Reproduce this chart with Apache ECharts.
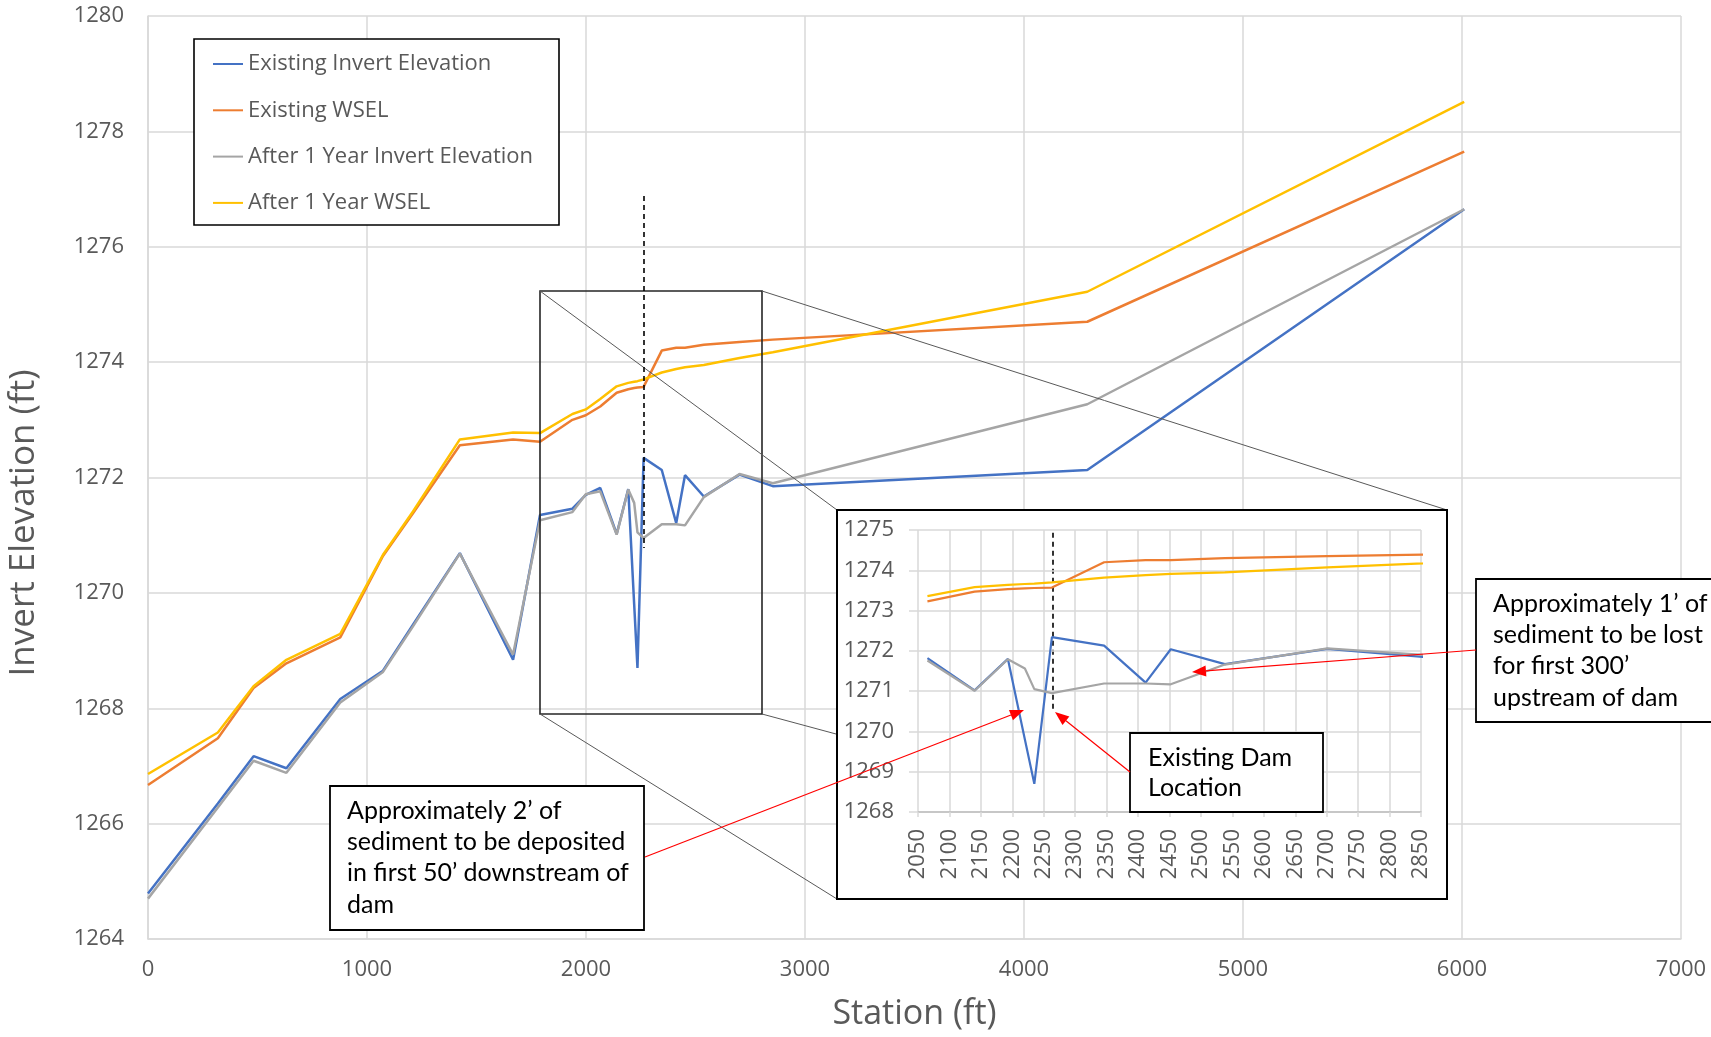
<!DOCTYPE html>
<html>
<head>
<meta charset="utf-8">
<script src="https://cdn.jsdelivr.net/npm/echarts@6/dist/echarts.min.js"></script>
<style>
  html, body { margin: 0; padding: 0; background: #fff; }
  #chart { width: 1711px; height: 1037px; }
</style>
</head>
<body>
<div id="chart"></div>
<script>
// River profile: cross-section stations (ft) and elevations (ft)
const stations = [0, 319, 482, 632, 878, 1073, 1210, 1424, 1667, 1790, 1938, 1999, 2065, 2140, 2193, 2220, 2235, 2263, 2346, 2412, 2452, 2538, 2701, 2853, 4289, 6010];
const existingInvert = [1264.79, 1266.35, 1267.17, 1266.96, 1268.16, 1268.65, 1269.45, 1270.69, 1268.84, 1271.35, 1271.46, 1271.70, 1271.82, 1271.02, 1271.80, 1269.80, 1268.70, 1272.34, 1272.13, 1271.21, 1272.04, 1271.67, 1272.05, 1271.85, 1272.13, 1276.65];
const existingWsel = [1266.67, 1267.48, 1268.35, 1268.78, 1269.23, 1270.64, 1271.38, 1272.56, 1272.66, 1272.62, 1273.00, 1273.08, 1273.23, 1273.47, 1273.53, 1273.55, 1273.56, 1273.57, 1274.20, 1274.25, 1274.25, 1274.30, 1274.35, 1274.39, 1274.70, 1277.65];
const after1YrInvert = [1264.70, 1266.28, 1267.09, 1266.88, 1268.10, 1268.63, 1269.42, 1270.68, 1268.93, 1271.26, 1271.40, 1271.71, 1271.76, 1271.01, 1271.79, 1271.56, 1271.05, 1270.95, 1271.19, 1271.19, 1271.17, 1271.66, 1272.06, 1271.90, 1273.27, 1276.65];
const after1YrWsel = [1266.86, 1267.58, 1268.38, 1268.84, 1269.29, 1270.66, 1271.41, 1272.66, 1272.78, 1272.77, 1273.10, 1273.18, 1273.36, 1273.58, 1273.64, 1273.66, 1273.67, 1273.70, 1273.82, 1273.88, 1273.91, 1273.95, 1274.07, 1274.17, 1275.22, 1278.51];

const seriesNames = ['Existing Invert Elevation', 'Existing WSEL', 'After 1 Year Invert Elevation', 'After 1 Year WSEL'];
const seriesColors = ['#4472C4', '#ED7D31', '#A5A5A5', '#FFC000'];
const seriesValues = [existingInvert, existingWsel, after1YrInvert, after1YrWsel];

// Axis ranges
const mainXTicks = [0, 1000, 2000, 3000, 4000, 5000, 6000, 7000];
const mainYTicks = [1264, 1266, 1268, 1270, 1272, 1274, 1276, 1278, 1280];
const insetXTicks = [2050, 2100, 2150, 2200, 2250, 2300, 2350, 2400, 2450, 2500, 2550, 2600, 2650, 2700, 2750, 2800, 2850];
const insetYTicks = [1268, 1269, 1270, 1271, 1272, 1273, 1274, 1275];

const damStation = 2264;
const insetFrom = 2050;

const notes = {
  deposit: ['Approximately 2’ of', 'sediment to be deposited', 'in first 50’ downstream of', 'dam'],
  dam: ['Existing Dam', 'Location'],
  lost: ['Approximately 1’ of', 'sediment to be lost', 'for first 300’', 'upstream of dam']
};

const AXIS_FONT = '"Open Sans", "Noto Sans", sans-serif';
const NOTE_FONT = 'Lato, "Open Sans", sans-serif';
const GREY_TEXT = '#595959';
const GRID_LINE = '#d9d9d9';
const plain = v => String(v);

const chart = echarts.init(document.getElementById('chart'), null, { renderer: 'canvas' });

function pairs(values, filterFn) {
  const out = [];
  stations.forEach((s, i) => { if (!filterFn || filterFn(s)) out.push([s, values[i]]); });
  return out;
}

const mainSeries = seriesNames.map((name, k) => ({
  name, type: 'line', xAxisIndex: 0, yAxisIndex: 0,
  data: pairs(seriesValues[k]),
  symbol: 'none', z: 2,
  lineStyle: { color: seriesColors[k], width: 2.5 },
  itemStyle: { color: seriesColors[k] },
  animation: false
}));
const insetSeries = seriesNames.map((name, k) => ({
  name, type: 'line', xAxisIndex: 1, yAxisIndex: 1,
  data: pairs(seriesValues[k], s => s >= insetFrom),
  symbol: 'none', z: 8, clip: true,
  lineStyle: { color: seriesColors[k], width: 2.2 },
  itemStyle: { color: seriesColors[k] },
  animation: false
}));

// Dam location dashed markers
mainSeries[0].markLine = {
  silent: true, symbol: 'none', label: { show: false },
  lineStyle: { color: '#000', type: [5, 4], width: 1.6 },
  data: [[{ coord: [damStation, 1276.88] }, { coord: [damStation, 1270.78] }]]
};
insetSeries[0].markLine = {
  silent: true, symbol: 'none', label: { show: false },
  lineStyle: { color: '#000', type: [5, 4], width: 1.6 },
  data: [[{ coord: [damStation, 1274.93] }, { coord: [damStation, 1270.55] }]]
};

// Annotation helpers
function arrow(x1, y1, x2, y2) {
  const ang = Math.atan2(y2 - y1, x2 - x1);
  const len = 14, half = 5.5;
  const bx = x2 - len * Math.cos(ang), by = y2 - len * Math.sin(ang);
  const px = -Math.sin(ang) * half, py = Math.cos(ang) * half;
  return [
    { type: 'line', z: 40, shape: { x1, y1, x2: bx, y2: by }, style: { stroke: '#ff0000', lineWidth: 1.2 } },
    { type: 'polygon', z: 40, shape: { points: [[x2, y2], [bx + px, by + py], [bx - px, by - py]] }, style: { fill: '#ff0000' } }
  ];
}
function noteBox(x, y, w, h, tx, ty, lines, lh) {
  return [
    { type: 'rect', z: 30, shape: { x, y, width: w, height: h }, style: { fill: '#fff', stroke: '#000', lineWidth: 1.8 } },
    { type: 'text', z: 31, x: tx, y: ty, style: { text: lines.join('\n'), font: '25px ' + NOTE_FONT, fill: '#000', lineHeight: lh, verticalAlign: 'top', align: 'left' } }
  ];
}

const zoomBox = { x1: 540, y1: 291, x2: 762, y2: 714 };
const insetBox = { x1: 837, y1: 510, x2: 1447, y2: 899 };

const graphics = [
  // y-axis title
  { type: 'text', z: 10, x: 24, y: 523, rotation: Math.PI / 2,
    style: { text: 'Invert Elevation (ft)', font: '35px ' + AXIS_FONT, fill: GREY_TEXT, align: 'center', verticalAlign: 'middle' } },
  // legend frame
  { type: 'rect', z: 3, shape: { x: 194, y: 39, width: 365, height: 186 }, style: { fill: '#fff', stroke: '#000', lineWidth: 1.6 } },
  // zoom region frame
  { type: 'rect', z: 4, shape: { x: zoomBox.x1, y: zoomBox.y1, width: zoomBox.x2 - zoomBox.x1, height: zoomBox.y2 - zoomBox.y1 }, style: { fill: null, stroke: '#262626', lineWidth: 1.6 } },
  // connectors from zoom frame to inset corners
  { type: 'line', z: 4, shape: { x1: zoomBox.x1, y1: zoomBox.y1, x2: insetBox.x1, y2: insetBox.y1 }, style: { stroke: '#595959', lineWidth: 1 } },
  { type: 'line', z: 4, shape: { x1: zoomBox.x2, y1: zoomBox.y1, x2: insetBox.x2, y2: insetBox.y1 }, style: { stroke: '#595959', lineWidth: 1 } },
  { type: 'line', z: 4, shape: { x1: zoomBox.x1, y1: zoomBox.y2, x2: insetBox.x1, y2: insetBox.y2 }, style: { stroke: '#595959', lineWidth: 1 } },
  { type: 'line', z: 4, shape: { x1: zoomBox.x2, y1: zoomBox.y2, x2: insetBox.x2, y2: insetBox.y2 }, style: { stroke: '#595959', lineWidth: 1 } },
  // inset panel
  { type: 'rect', z: 5, shape: { x: insetBox.x1, y: insetBox.y1, width: insetBox.x2 - insetBox.x1, height: insetBox.y2 - insetBox.y1 }, style: { fill: '#fff', stroke: '#000', lineWidth: 2 } },
  ...noteBox(330, 786, 314, 144, 347, 795, notes.deposit, 31.3),
  ...noteBox(1130, 733, 193, 79, 1148, 743, notes.dam, 30),
  ...noteBox(1476, 579, 240, 143, 1493, 588, notes.lost, 31.3),
  ...arrow(645, 857, 1024, 710),
  ...arrow(1130, 772, 1055, 712),
  ...arrow(1476, 650, 1192, 672)
];

const option = {
  backgroundColor: '#fff',
  animation: false,
  textStyle: { fontFamily: AXIS_FONT },
  legend: {
    show: true, orient: 'vertical', left: 213, top: 52, padding: 0,
    itemWidth: 30, itemHeight: 14, itemGap: 22.3, z: 6,
    data: seriesNames.map((n, k) => ({ name: n, icon: 'path://M0,0 L30,0 L30,2 L0,2 Z', itemStyle: { color: seriesColors[k] } })),
    textStyle: { fontSize: 22, color: GREY_TEXT, fontFamily: AXIS_FONT, lineHeight: 24 },
    selectedMode: false
  },
  grid: [
    { left: 148, top: 16, width: 1533, height: 923, containLabel: false },
    { left: 918, top: 530, width: 503, height: 282, containLabel: false, z: 6 }
  ],
  xAxis: [
    { type: 'value', gridIndex: 0, min: mainXTicks[0], max: mainXTicks[mainXTicks.length - 1], interval: 1000,
      name: 'Station (ft)', nameLocation: 'middle', nameGap: 58,
      nameTextStyle: { fontSize: 34, color: GREY_TEXT, fontFamily: AXIS_FONT },
      axisLine: { show: true, lineStyle: { color: GRID_LINE, width: 1.5 } }, axisTick: { show: false },
      axisLabel: { fontSize: 22, color: GREY_TEXT, margin: 20, fontFamily: AXIS_FONT, formatter: plain },
      splitLine: { show: true, lineStyle: { color: GRID_LINE, width: 1.5 } } },
    { type: 'value', gridIndex: 1, min: insetXTicks[0], max: insetXTicks[insetXTicks.length - 1], interval: 50, z: 6,
      axisLine: { show: true, lineStyle: { color: '#bfbfbf', width: 1.5 } },
      axisTick: { show: true, length: 5, lineStyle: { color: GRID_LINE, width: 1.5 } },
      axisLabel: { fontSize: 22, color: GREY_TEXT, rotate: 90, margin: 17, interval: 0, hideOverlap: false, fontFamily: AXIS_FONT, formatter: plain },
      splitLine: { show: true, lineStyle: { color: GRID_LINE, width: 1.5 } } }
  ],
  yAxis: [
    { type: 'value', gridIndex: 0, min: mainYTicks[0], max: mainYTicks[mainYTicks.length - 1], interval: 2,
      axisLine: { show: true, lineStyle: { color: GRID_LINE, width: 1.5 } }, axisTick: { show: false },
      axisLabel: { fontSize: 22, color: GREY_TEXT, margin: 24, fontFamily: AXIS_FONT, formatter: plain },
      splitLine: { show: true, lineStyle: { color: GRID_LINE, width: 1.5 } } },
    { type: 'value', gridIndex: 1, min: insetYTicks[0], max: insetYTicks[insetYTicks.length - 1], interval: 1, z: 6,
      axisLine: { show: false },
      axisTick: { show: true, length: 9, lineStyle: { color: GRID_LINE, width: 1.5 } },
      axisLabel: { fontSize: 22, color: GREY_TEXT, margin: 24, fontFamily: AXIS_FONT, formatter: plain },
      splitLine: { show: true, lineStyle: { color: GRID_LINE, width: 1.5 } } }
  ],
  series: [...mainSeries, ...insetSeries],
  graphic: { elements: graphics }
};

chart.setOption(option);
</script>
</body>
</html>
